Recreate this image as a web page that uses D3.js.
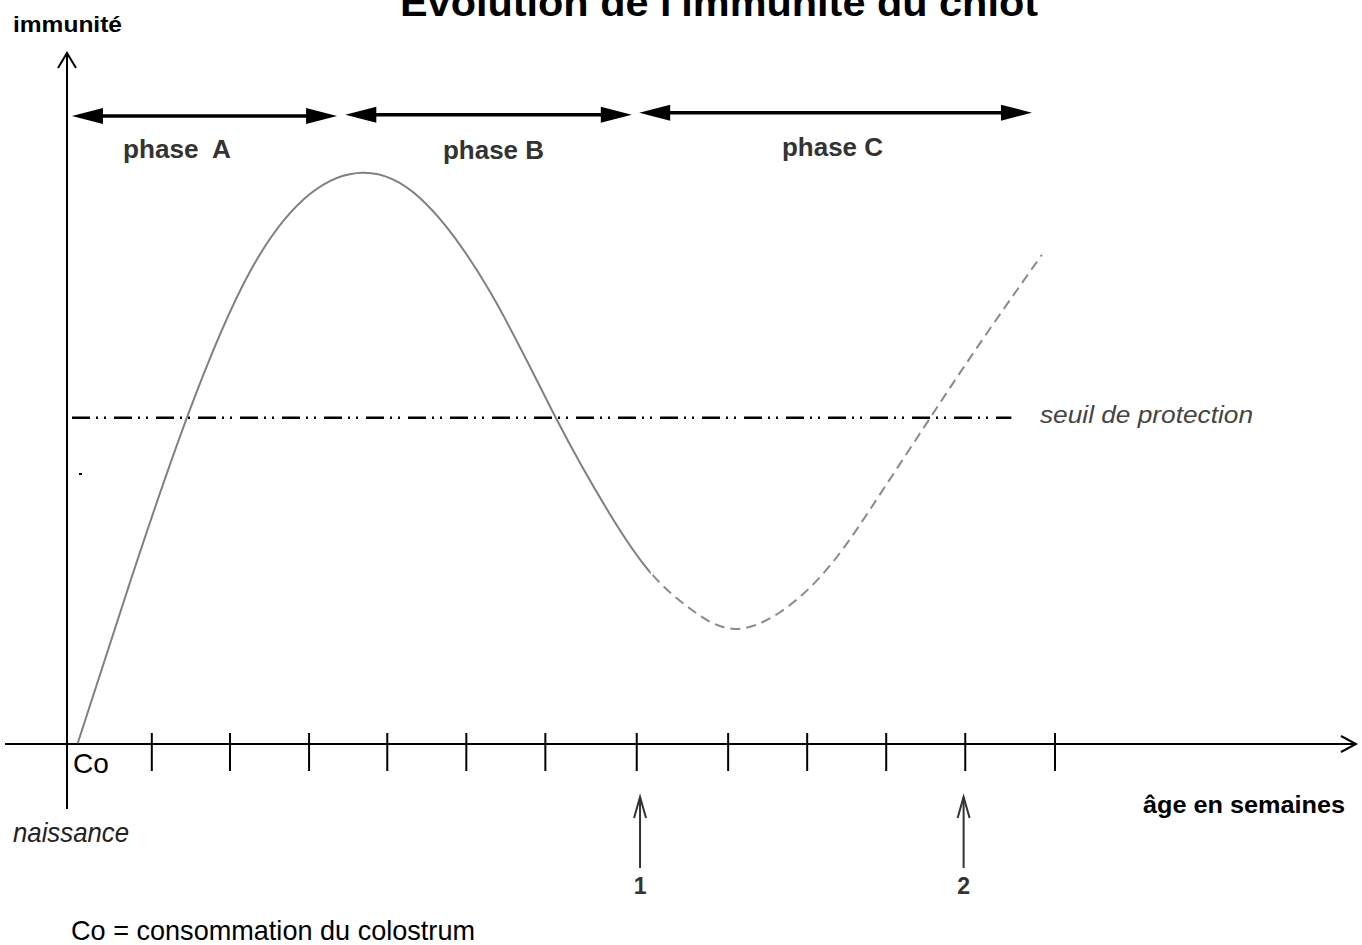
<!DOCTYPE html>
<html>
<head>
<meta charset="UTF-8">
<title>Evolution de l'immunité du chiot</title>
<script src="https://d3js.org/d3.v7.min.js"></script>
<style>
	body { margin: 0; background: #fff; }
	text { font-family: "Liberation Sans", Arial, sans-serif; }
</style>
</head>
<body>
<div id="chart"></div>
<script>
	// weeks on x, immunity level (0-100) on y
	const tickWeeks = [1.03, 1.98, 2.94, 3.89, 4.85, 5.81, 6.92, 8.03, 8.99, 9.95, 10.91, 12];

	const curveWeeks = [0.13, 0.77, 1.46, 2.22, 2.95, 3.60, 4.29, 5.14, 5.94, 6.60, 7.09,
		7.57, 8.08, 8.66, 9.27, 9.87, 10.48, 11.09, 11.84];
	const curveImmunity = [0.1, 23.6, 47.4, 68.4, 79.7, 82.8, 79.1, 65.5, 47.2, 33.2, 24.8,
		19.6, 16.7, 19.1, 25.9, 36.1, 47.2, 58.1, 70.9];
	// after this age the curve is drawn dashed
	const solidUntil = 7.09;

	const threshold = 47.3;
	const thresholdEnd = 11.47;

	const phaseNames = ["phase  A", "phase B", "phase C"];
	const phaseFrom = [0.06, 3.38, 6.95];
	const phaseTo = [3.28, 6.86, 11.72];
	const phaseLevel = [91.0, 91.2, 91.5];

	const markerWeeks = [6.96, 10.89];
	const markerLabels = ["1", "2"];

	let width = 1362;
	let height = 945;
	let svg = d3.select("#chart").append("svg")
		.attr("width", width)
		.attr("height", height);

	let x = d3.scaleLinear().domain([0, 12]).range([67, 1055]);
	let y = d3.scaleLinear().domain([0, 100]).range([744, 54]);

	// title (cut by the top edge like in the original)
	svg.append("text")
		.attr("x", 400).attr("y", 16)
		.attr("font-size", 38).attr("font-weight", "bold")
		.attr("textLength", 638).attr("lengthAdjust", "spacingAndGlyphs")
		.text("Evolution de l'immunité du chiot");

	svg.append("text")
		.attr("x", 13).attr("y", 32)
		.attr("font-size", 22).attr("font-weight", "bold")
		.attr("textLength", 109).attr("lengthAdjust", "spacingAndGlyphs")
		.text("immunité");

	// axes
	svg.append("line")
		.attr("x1", 5).attr("x2", 1356)
		.attr("y1", y(0)).attr("y2", y(0))
		.attr("stroke", "black").attr("stroke-width", 2);
	svg.append("path")
		.attr("d", `M1341,${y(0) - 8} L1356,${y(0)} L1341,${y(0) + 8}`)
		.attr("fill", "none").attr("stroke", "black").attr("stroke-width", 2);

	svg.append("line")
		.attr("x1", x(0)).attr("x2", x(0))
		.attr("y1", 809).attr("y2", 53)
		.attr("stroke", "black").attr("stroke-width", 2);
	svg.append("path")
		.attr("d", `M${x(0) - 9},68 L${x(0)},53 L${x(0) + 9},68`)
		.attr("fill", "none").attr("stroke", "black").attr("stroke-width", 2);

	svg.selectAll(".tick")
		.data(tickWeeks)
		.join("line")
		.attr("class", "tick")
		.attr("x1", d => x(d)).attr("x2", d => x(d))
		.attr("y1", y(0) - 11).attr("y2", y(0) + 27)
		.attr("stroke", "black").attr("stroke-width", 2);

	// protection threshold
	svg.append("line")
		.attr("x1", x(0) + 5).attr("x2", x(thresholdEnd))
		.attr("y1", y(threshold)).attr("y2", y(threshold))
		.attr("stroke", "black").attr("stroke-width", 2.5)
		.attr("stroke-dasharray", "18,6,2,6,2,8");

	svg.append("text")
		.attr("x", 1040).attr("y", 423)
		.attr("font-size", 24).attr("font-style", "italic")
		.attr("fill", "#444")
		.attr("textLength", 213).attr("lengthAdjust", "spacingAndGlyphs")
		.text("seuil de protection");

	// immunity curve: one smooth path, solid part then dashed part (clipped)
	let defs = svg.append("defs");
	defs.append("clipPath").attr("id", "clipSolid")
		.append("rect")
		.attr("x", 0).attr("y", 0)
		.attr("width", x(solidUntil)).attr("height", height);
	defs.append("clipPath").attr("id", "clipDashed")
		.append("rect")
		.attr("x", x(solidUntil)).attr("y", 0)
		.attr("width", width - x(solidUntil)).attr("height", height);

	let line = d3.line()
		.x(d => x(d[0]))
		.y(d => y(d[1]))
		.curve(d3.curveNatural);

	let curveData = d3.zip(curveWeeks, curveImmunity);

	svg.append("path")
		.datum(curveData)
		.attr("d", line)
		.attr("clip-path", "url(#clipSolid)")
		.attr("fill", "none")
		.attr("stroke", "#808080").attr("stroke-width", 2);

	svg.append("path")
		.datum(curveData.filter(d => d[0] >= solidUntil))
		.attr("d", d3.line()
			.x(d => x(d[0]))
			.y(d => y(d[1]))
			.curve(d3.curveNatural)(curveData))
		.attr("clip-path", "url(#clipDashed)")
		.attr("fill", "none")
		.attr("stroke", "#8a8a8a").attr("stroke-width", 2)
		.attr("stroke-dasharray", "10,6");

	// phase arrows
	let phases = phaseNames.map((name, i) => ({
		name: name, from: phaseFrom[i], to: phaseTo[i], level: phaseLevel[i]
	}));

	svg.selectAll(".phaseline")
		.data(phases)
		.join("line")
		.attr("class", "phaseline")
		.attr("x1", d => x(d.from) + 20).attr("x2", d => x(d.to) - 20)
		.attr("y1", d => y(d.level)).attr("y2", d => y(d.level))
		.attr("stroke", "black").attr("stroke-width", 3.5);

	svg.selectAll(".headleft")
		.data(phases)
		.join("path")
		.attr("class", "headleft")
		.attr("d", d => {
			let tx = x(d.from), ty = y(d.level);
			return `M${tx},${ty} L${tx + 31},${ty - 8} L${tx + 31},${ty + 8} Z`;
		})
		.attr("fill", "black");

	svg.selectAll(".headright")
		.data(phases)
		.join("path")
		.attr("class", "headright")
		.attr("d", d => {
			let tx = x(d.to), ty = y(d.level);
			return `M${tx},${ty} L${tx - 31},${ty - 8} L${tx - 31},${ty + 8} Z`;
		})
		.attr("fill", "black");

	let phaseLabelX = [123, 443, 782];
	let phaseLabelY = [158, 159, 156];
	let phaseLabelW = [108, 101, 101];
	svg.selectAll(".phaselabel")
		.data(phases)
		.join("text")
		.attr("class", "phaselabel")
		.attr("x", (d, i) => phaseLabelX[i])
		.attr("y", (d, i) => phaseLabelY[i])
		.attr("font-size", 25).attr("font-weight", "bold")
		.attr("fill", "#333")
		.attr("textLength", (d, i) => phaseLabelW[i])
		.attr("lengthAdjust", "spacingAndGlyphs")
		.style("white-space", "pre")
		.text(d => d.name);

	// markers 1 and 2
	svg.selectAll(".marker")
		.data(markerWeeks)
		.join("line")
		.attr("class", "marker")
		.attr("x1", d => x(d)).attr("x2", d => x(d))
		.attr("y1", 868).attr("y2", 797)
		.attr("stroke", "#333").attr("stroke-width", 2);
	svg.selectAll(".markerhead")
		.data(markerWeeks)
		.join("path")
		.attr("class", "markerhead")
		.attr("d", d => `M${x(d) - 6},818 L${x(d)},797 L${x(d) + 6},818`)
		.attr("fill", "none").attr("stroke", "#333").attr("stroke-width", 2);
	svg.selectAll(".markerlabel")
		.data(markerWeeks)
		.join("text")
		.attr("class", "markerlabel")
		.attr("x", d => x(d)).attr("y", 894)
		.attr("text-anchor", "middle")
		.attr("font-size", 23).attr("font-weight", "bold")
		.attr("fill", "#333")
		.text((d, i) => markerLabels[i]);

	// other labels
	svg.append("text")
		.attr("x", 73).attr("y", 773)
		.attr("font-size", 28)
		.text("Co");

	svg.append("text")
		.attr("x", 13).attr("y", 842)
		.attr("font-size", 28).attr("font-style", "italic")
		.attr("fill", "#222")
		.attr("textLength", 116).attr("lengthAdjust", "spacingAndGlyphs")
		.text("naissance");

	svg.append("text")
		.attr("x", 1143).attr("y", 813)
		.attr("font-size", 23).attr("font-weight", "bold")
		.attr("textLength", 202).attr("lengthAdjust", "spacingAndGlyphs")
		.text("âge en semaines");

	svg.append("text")
		.attr("x", 71).attr("y", 940)
		.attr("font-size", 28)
		.attr("textLength", 404).attr("lengthAdjust", "spacingAndGlyphs")
		.text("Co = consommation du colostrum");

	// small stray dot left of the curve
	svg.append("rect")
		.attr("x", 79).attr("y", 473)
		.attr("width", 3).attr("height", 2)
		.attr("fill", "black");
</script>
</body>
</html>
